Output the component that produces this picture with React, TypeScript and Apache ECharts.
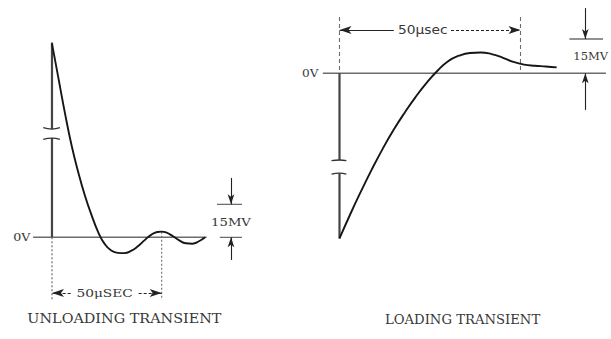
import React, { useEffect, useRef } from "react";
import * as echarts from "echarts";

// ---- data (time in µs, deviation in mV) ----
const unloadTime = [0, 3, 6, 9, 12, 15, 18, 21, 24, 27, 30, 33, 36, 39, 42, 45, 48, 50, 52, 55, 58, 61, 64, 67, 69.8];
const unloadMv = [88, 72, 56, 41.5, 29.5, 19, 10.2, 2.5, -3, -6, -7.1, -7.2, -6.2, -4.2, -1.5, 1, 2.4, 2.6, 2.2, 0.6, -1.4, -2.7, -2.9, -1.8, 0];
const loadTime = [0, 3, 6, 9, 12, 15, 18, 21, 24, 27, 30, 33, 36, 39, 42, 45, 48, 51, 54, 57, 60];
const loadMv = [-72.2, -61.5, -51.4, -41.8, -32.8, -24.6, -17.2, -10.4, -4.3, 1.0, 5.3, 7.7, 8.9, 9.1, 8.4, 6.9, 5.0, 3.8, 3.3, 3.0, 2.6];

const spanUs = 50;
const stepMv = 15;
const panelTitles = ["UNLOADING TRANSIENT", "LOADING TRANSIENT"];
const zeroLabel = "0V";
const stepLabel = "15MV";
const spanLabels = ["50μSEC", "50μsec"];

const INK = "#161616";
const GREY = "#6c6c6c";
const TEXT = "#383838";
const SERIF = '"DejaVu Serif", "Liberation Serif", serif';
const SANS = '"DejaVu Sans", sans-serif';

function seg(g: number, pts: number[][], color: string, width: number, type: any = "solid", extra: any = {}) {
  return {
    type: "line",
    xAxisIndex: g,
    yAxisIndex: g,
    data: pts,
    symbol: "none",
    silent: true,
    animation: false,
    lineStyle: { color, width, type },
    z: 2,
    ...extra,
  };
}

function arrowItem(from: number[], to: number[], size: number[], lineType: any = "solid", color = "#222") {
  return [
    { coord: from, symbol: "none" },
    { coord: to, symbol: "arrow", symbolSize: size, lineStyle: { type: lineType, color, width: 1.1 } },
  ];
}

function zip(a: number[], b: number[]) {
  return a.map((t, i) => [t, b[i]]);
}

export default function App() {
  const ref = useRef<HTMLDivElement>(null);
  useEffect(() => {
    if (!ref.current) return;
    const chart = echarts.init(ref.current, undefined, { renderer: "svg" });

    const dimL = -25.3; // dimension line level (left panel)
    const dimR = 18.9; // dimension line level (right panel)
    const mkL = 81.6; // 15MV marker position (left)
    const mkR = 67.9; // 15MV marker position (right)

    const curveStyle = { color: INK, width: 1.9 };

    const series: any[] = [
      // ---------- LEFT PANEL ----------
      seg(0, [[-8.6, 0], [70.5, 0]], GREY, 1.4, "solid", {
        markLine: {
          silent: true,
          label: { show: false },
          symbolSize: [6, 11],
          lineStyle: { color: "#222", width: 1.1, type: "solid" },
          data: [
            arrowItem([8.5, dimL], [0, dimL], [6, 12], [3, 2]),
            arrowItem([39.5, dimL], [spanUs, dimL], [6, 12], [3, 2]),
            arrowItem([mkL, 27], [mkL, stepMv], [5, 10]),
            arrowItem([mkL, -10.3], [mkL, 0], [5, 10]),
          ],
        },
      }),
      seg(0, [[0, 88.5], [0, 49.2]], "#444", 2.2),
      seg(0, [[0, 45.1], [0, 0]], "#444", 2.2),
      seg(0, [[0, 0], [0, -28.5]], GREY, 1.2, [2, 2]),
      seg(0, [[spanUs, 2.5], [spanUs, -28.5]], GREY, 1.1, [2, 2]),
      seg(0, [[-4, 49.8], [0, 49.2], [3.6, 49.8]], "#333", 1.3, "solid", { smooth: true }),
      seg(0, [[-4, 44.5], [0, 45.1], [3.6, 44.5]], "#333", 1.3, "solid", { smooth: true }),
      seg(0, [[75.2, stepMv], [86.6, stepMv]], GREY, 1.3),
      seg(0, [[76.5, 0], [86.6, 0]], GREY, 1.3),
      {
        type: "line",
        xAxisIndex: 0,
        yAxisIndex: 0,
        data: zip(unloadTime, unloadMv),
        smooth: 0.5,
        symbol: "none",
        silent: true,
        lineStyle: curveStyle,
        z: 5,
      },
      // ---------- RIGHT PANEL ----------
      seg(1, [[-4.6, 0], [73.6, 0]], GREY, 1.4, "solid", {
        markLine: {
          silent: true,
          label: { show: false },
          symbolSize: [6, 11],
          lineStyle: { color: "#222", width: 1.1, type: "solid" },
          data: [
            arrowItem([15, dimR], [0, dimR], [6, 12]),
            arrowItem([30.8, dimR], [spanUs, dimR], [6, 12], [3, 2]),
            arrowItem([mkR, 28.5], [mkR, stepMv], [5, 10]),
            arrowItem([mkR, -16], [mkR, 0], [5, 10]),
          ],
        },
      }),
      seg(1, [[0, 24.6], [0, 0]], GREY, 1.1, [4, 3]),
      seg(1, [[spanUs, 24.6], [spanUs, 0]], GREY, 1.1, [4, 3]),
      seg(1, [[0, 0], [0, -37.9]], "#444", 2.2),
      seg(1, [[0, -43.7], [0, -72.2]], "#444", 2.2),
      seg(1, [[-2.2, -38.2], [0, -37.9], [1.9, -38.2]], "#333", 1.3, "solid", { smooth: true }),
      seg(1, [[-2.2, -44.1], [0, -43.6], [1.9, -44.1]], "#333", 1.3, "solid", { smooth: true }),
      seg(1, [[63.5, stepMv], [72.8, stepMv]], GREY, 1.3),
      {
        type: "line",
        xAxisIndex: 1,
        yAxisIndex: 1,
        data: zip(loadTime, loadMv),
        smooth: 0.5,
        symbol: "none",
        silent: true,
        lineStyle: curveStyle,
        z: 5,
      },
    ];

    const axisHidden = { show: false, splitLine: { show: false } };
    chart.setOption({
      animation: false,
      backgroundColor: "#ffffff",
      grid: [
        { left: 8.1, top: 28.3, width: 252.3, height: 275, show: false },
        { left: 303.3, top: 4.7, width: 311.7, height: 251.6, show: false },
      ],
      xAxis: [
        { type: "value", gridIndex: 0, min: -20, max: 95, ...axisHidden },
        { type: "value", gridIndex: 1, min: -10, max: 75, ...axisHidden },
      ],
      yAxis: [
        { type: "value", gridIndex: 0, min: -30, max: 95, ...axisHidden },
        { type: "value", gridIndex: 1, min: -80, max: 30, ...axisHidden },
      ],
      series,
    });

    const px = (g: number, p: number[]) => chart.convertToPixel({ gridIndex: g } as any, p) as number[];
    const txt = (p: number[], text: string, size: number, sx: number, family = SERIF, align = "center", bg?: string) => ({
      type: "text",
      x: p[0],
      y: p[1],
      scaleX: sx,
      silent: true,
      z: 10,
      style: {
        text,
        fill: TEXT,
        font: `${size}px ${family}`,
        align,
        verticalAlign: "middle",
        textAlign: align,
        textVerticalAlign: "middle",
        ...(bg ? { backgroundColor: bg } : {}),
      },
    });

    const lZero = px(0, [-9.8, 0]);
    const rZero = px(1, [-5.8, 0]);
    const lStep = px(0, [mkL, 7]);
    const rStep = px(1, [mkR + 1.5, 7.1]);
    const lSpan = px(0, [24, dimL]);
    const rSpan = px(1, [23, dimR]);
    const lTitleX = px(0, [33, 0])[0];
    const rTitleX = px(1, [34, 0])[0];

    chart.setOption({
      graphic: [
        txt(lZero, zeroLabel, 11, 1.15, SERIF, "right"),
        txt(rZero, zeroLabel, 11, 1.1, SERIF, "right"),
        txt(lStep, stepLabel, 11, 1.2),
        txt(rStep, stepLabel, 11, 1.05),
        txt(lSpan, spanLabels[0], 11, 1.25, SERIF, "center", "#fff"),
        txt(rSpan, spanLabels[1], 12, 1.15, SANS),
        txt([lTitleX, 319], panelTitles[0], 12, 1.2),
        txt([rTitleX, 320], panelTitles[1], 12, 1.1),
      ],
    });

    return () => chart.dispose();
  }, []);

  return (
    <div
      ref={ref}
      style={{ position: "fixed", left: 0, top: 0, width: 611, height: 339, background: "#fff" }}
    />
  );
}
